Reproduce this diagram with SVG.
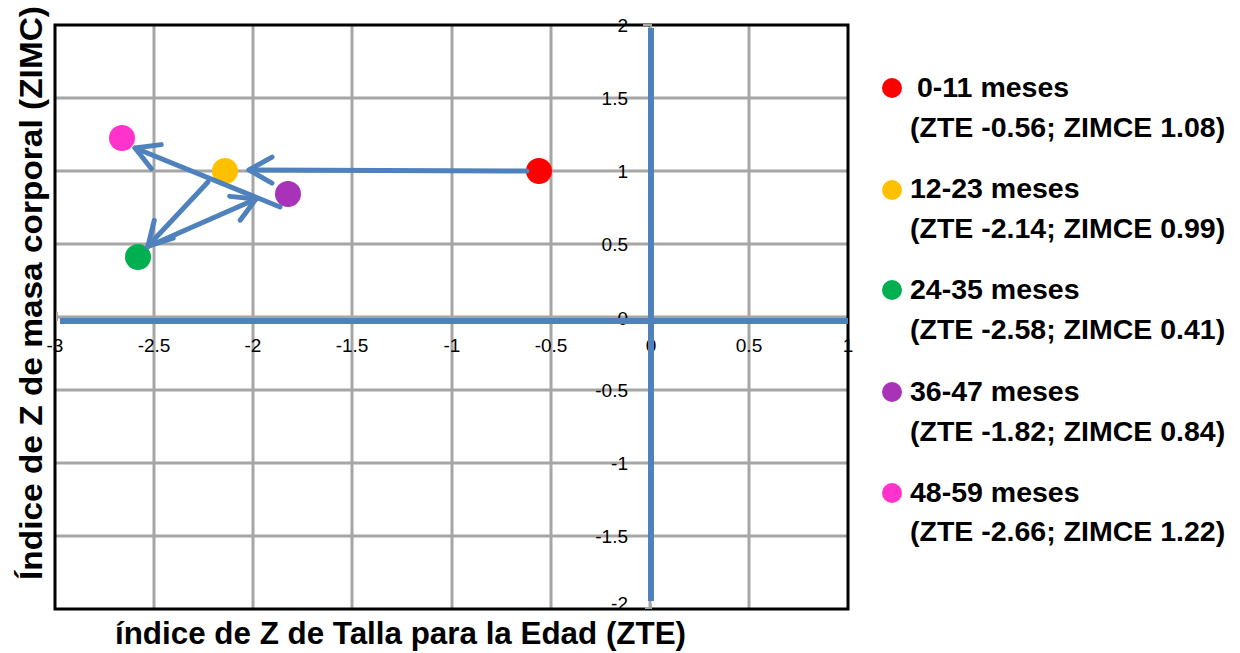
<svg xmlns="http://www.w3.org/2000/svg" width="1240" height="653" viewBox="0 0 1240 653">
<style>
.grid{stroke:#A6A6A6;stroke-width:3;fill:none}
.tick{font-family:"Liberation Sans",Arial,sans-serif;font-size:19px;fill:#000}
.tx{text-anchor:middle}
.ty{text-anchor:end}
.border{stroke:#000;stroke-width:3;fill:none}
.axis{stroke:#4F81BD;stroke-width:6;fill:none}
.conn{stroke:#4F81BD;stroke-width:5;fill:none;stroke-linecap:round}
.leg{font-family:"Liberation Sans",Arial,sans-serif;font-size:28.5px;font-weight:bold;fill:#000}
.title{font-family:"Liberation Sans",Arial,sans-serif;font-size:32px;font-weight:bold;fill:#000}
.small{stroke:#A6A6A6;stroke-width:2;fill:none}
</style>
<defs>
<marker id="arr" markerUnits="userSpaceOnUse" markerWidth="40" markerHeight="40" viewBox="-30 -20 40 40" refX="0" refY="0" orient="auto">
<path d="M-23,-13 L0,0 L-23,13" stroke="#4F81BD" stroke-width="5" fill="none" stroke-linecap="round" stroke-linejoin="round"/>
</marker>
</defs>
<rect x="0" y="0" width="1240" height="653" fill="#fff"/>
<g id="gridlines">
<path class="grid" d="M154,25V609M253,25V609M352,25V609M452,25V609M551,25V609M650,25V609M749,25V609"/>
<path class="grid" d="M55,98H848M55,171H848M55,244H848M55,317H848M55,390H848M55,463H848M55,536H848"/>
</g>
<g id="tick-labels">
<text class="tick tx" x="55" y="352">-3</text>
<text class="tick tx" x="154" y="352">-2.5</text>
<text class="tick tx" x="253" y="352">-2</text>
<text class="tick tx" x="352" y="352">-1.5</text>
<text class="tick tx" x="452" y="352">-1</text>
<text class="tick tx" x="551" y="352">-0.5</text>
<text class="tick tx" x="651" y="352">0</text>
<text class="tick tx" x="749" y="352">0.5</text>
<text class="tick tx" x="848" y="352">1</text>
<text class="tick ty" x="628" y="32">2</text>
<text class="tick ty" x="628" y="105">1.5</text>
<text class="tick ty" x="628" y="178">1</text>
<text class="tick ty" x="628" y="251">0.5</text>
<text class="tick ty" x="628" y="325">0</text>
<text class="tick ty" x="628" y="397">-0.5</text>
<text class="tick ty" x="628" y="470">-1</text>
<text class="tick ty" x="628" y="543">-1.5</text>
<text class="tick ty" x="628" y="610">-2</text>
</g>
<g id="plot-border">
<rect class="border" x="55" y="25" width="793" height="584"/>
</g>
<g id="axes">
<path class="small" d="M643,25H651V29M645,608H651V604M57,312V321"/>
<path class="axis" d="M60,321H848"/>
<path class="axis" d="M651,28V601"/>
</g>
<g id="n-0-11"><circle cx="539" cy="171" r="13" fill="#FF0000"/></g>
<g id="n-12-23"><circle cx="225" cy="171" r="13" fill="#FFC000"/></g>
<g id="n-24-35"><circle cx="138" cy="257" r="13" fill="#00B050"/></g>
<g id="n-36-47"><circle cx="288" cy="194" r="13" fill="#A832B8"/></g>
<g id="n-48-59"><circle cx="122" cy="138" r="13" fill="#FF33CC"/></g>
<g id="connectors">
<path class="conn" d="M527,171L249,170" marker-end="url(#arr)"/>
<path class="conn" d="M280,207L135,148" marker-end="url(#arr)"/>
<path class="conn" d="M208,182L148,246" marker-end="url(#arr)"/>
<path class="conn" d="M147,247L256,199" marker-end="url(#arr)"/>
</g>
<g id="legend">
<circle cx="892" cy="88" r="10" fill="#FF0000"/>
<text class="leg" x="917" y="97">0-11 meses</text>
<text class="leg" x="910" y="137">(ZTE -0.56; ZIMCE 1.08)</text>
<circle cx="892" cy="190" r="10" fill="#FFC000"/>
<text class="leg" x="910" y="198">12-23 meses</text>
<text class="leg" x="910" y="238">(ZTE -2.14; ZIMCE 0.99)</text>
<circle cx="892" cy="290" r="10" fill="#00B050"/>
<text class="leg" x="910" y="299">24-35 meses</text>
<text class="leg" x="910" y="339">(ZTE -2.58; ZIMCE 0.41)</text>
<circle cx="892" cy="392" r="10" fill="#A832B8"/>
<text class="leg" x="910" y="401">36-47 meses</text>
<text class="leg" x="910" y="441">(ZTE -1.82; ZIMCE 0.84)</text>
<circle cx="892" cy="493" r="10" fill="#FF33CC"/>
<text class="leg" x="910" y="502">48-59 meses</text>
<text class="leg" x="910" y="541">(ZTE -2.66; ZIMCE 1.22)</text>
</g>
<g id="axis-titles">
<text class="title" x="115" y="644" textLength="571" lengthAdjust="spacingAndGlyphs">índice de Z de Talla para la Edad (ZTE)</text>
<text class="title" transform="translate(42,580) rotate(-90)" x="0" y="0" textLength="574" lengthAdjust="spacingAndGlyphs">Índice de Z de masa corporal (ZIMC)</text>
</g>
</svg>
